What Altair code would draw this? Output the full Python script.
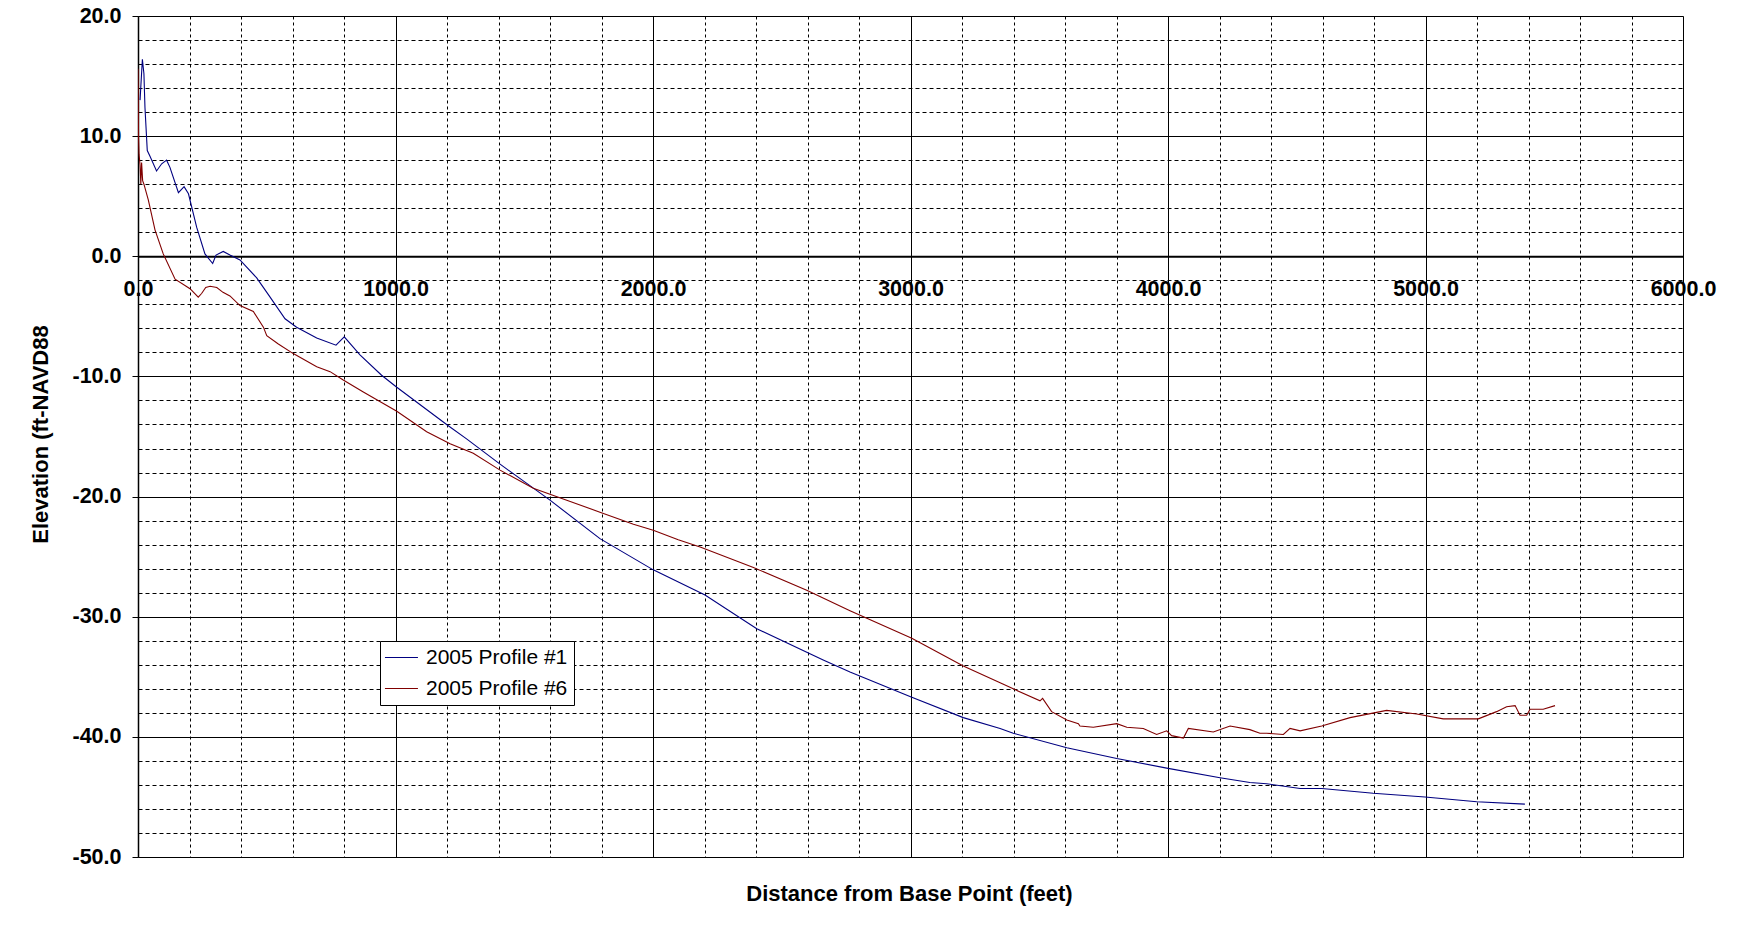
import altair as alt
import pandas as pd

# ---- data ----
series_names = ["2005 Profile #1", "2005 Profile #6"]
series_colors = ["#000080", "#800000"]

p1_dist = [8, 17, 23, 27, 36, 47, 72, 92, 111, 124, 157, 179, 196, 228, 260, 290, 303, 331, 357,
           396, 461, 513, 571, 616, 694, 769, 801, 862, 946, 1005, 1205, 1276, 1406, 1600, 1794,
           2001, 2202, 2403, 2661, 2765, 3005, 3205, 3348, 3399, 3607, 3801, 3995, 4202, 4318,
           4383, 4513, 4597, 4797, 4998, 5199, 5386]
p1_elev = [13.0, 16.4, 15.2, 12.4, 8.8, 8.3, 7.1, 7.7, 8.0, 7.4, 5.3, 5.8, 5.2, 2.4, 0.2, -0.6, 0.1,
           0.4, 0.1, -0.3, -1.8, -3.4, -5.2, -5.9, -6.8, -7.4, -6.7, -8.2, -9.9, -10.9, -14.1, -15.2,
           -17.3, -20.3, -23.5, -26.1, -28.2, -31.0, -33.6, -34.6, -36.7, -38.4, -39.3, -39.7, -40.9,
           -41.8, -42.6, -43.4, -43.8, -43.9, -44.3, -44.3, -44.7, -45.0, -45.4, -45.6]

p6_dist = [0, 2, 4, 8, 11, 14, 18, 23, 40, 66, 98, 144, 202, 234, 247, 263, 280, 306, 330, 357,
           396, 448, 487, 500, 545, 603, 694, 746, 797, 875, 1005, 1121, 1212, 1302, 1406, 1535,
           1665, 1794, 1924, 2001, 2098, 2183, 2390, 2597, 2765, 3005, 3205, 3348, 3399, 3503, 3513,
           3548, 3607, 3652, 3658, 3710, 3801, 3840, 3904, 3956, 3995, 4014, 4060, 4079, 4176,
           4241, 4318, 4357, 4383, 4448, 4474, 4513, 4597, 4707, 4849, 4966, 5069, 5205, 5276,
           5315, 5348, 5367, 5393, 5406, 5457, 5503]
p6_elev = [15.6, 10.0, 8.5, 7.6, 6.0, 7.8, 6.3, 6.0, 4.7, 2.2, 0.2, -1.9, -2.7, -3.4, -3.1, -2.6,
           -2.5, -2.6, -3.0, -3.3, -4.1, -4.6, -5.9, -6.6, -7.3, -8.1, -9.2, -9.6, -10.3, -11.3,
           -12.9, -14.6, -15.6, -16.4, -17.8, -19.3, -20.3, -21.3, -22.3, -22.8, -23.6, -24.2, -25.9,
           -27.8, -29.5, -31.8, -34.1, -35.5, -36.0, -37.0, -36.8, -37.9, -38.6, -38.9, -39.1,
           -39.2, -38.9, -39.2, -39.3, -39.8, -39.5, -39.9, -40.1, -39.3, -39.6, -39.1, -39.4,
           -39.7, -39.7, -39.8, -39.3, -39.5, -39.1, -38.4, -37.8, -38.1, -38.5, -38.5, -37.9,
           -37.5, -37.4, -38.2, -38.2, -37.7, -37.7, -37.4]

x_ticks = list(range(0, 6001, 200))
y_ticks = list(range(-50, 21, 2))

df = pd.concat([
    pd.DataFrame({"dist": p1_dist, "elev": p1_elev, "series": series_names[0]}),
    pd.DataFrame({"dist": p6_dist, "elev": p6_elev, "series": series_names[1]}),
])

FONT = "Liberation Sans"
W, H = 1545, 841
zero_from_bottom = H * 50 / 70.0

major_x = "datum.value % 1000 === 0"
major_y = "datum.value % 10 === 0"

x_axis = alt.Axis(
    values=x_ticks,
    labelExpr=f"{major_x} ? format(datum.value, '.1f') : ''",
    grid=True, gridColor="#000000", gridWidth=1,
    gridDash={"condition": {"test": major_x, "value": []}, "value": [3, 3]},
    tickOpacity={"condition": {"test": major_x, "value": 1}, "value": 0},
    tickSize=7, tickColor="#000000", tickWidth=1,
    domainColor="#000000", domainWidth=2,
    labelFont=FONT, labelFontWeight="bold", labelFontSize=21.5, labelColor="#000000",
    labelPadding=15, labelFlush=False, labelOverlap=False,
    offset=-zero_from_bottom,
    title="Distance from Base Point (feet)",
    titleFont=FONT, titleFontWeight="bold", titleFontSize=22, titleColor="#000000",
    titleX=771, titleY=637, titleAlign="center", titleBaseline="middle", titleAnchor="middle",
)

y_axis = alt.Axis(
    values=y_ticks,
    labelExpr=(f"{major_y} ? (datum.value < 0 ? '-' + format(-datum.value, '.1f') "
               ": format(datum.value, '.1f')) : ''"),
    grid=True, gridColor="#000000", gridWidth=1,
    gridDash={"condition": {"test": major_y, "value": []}, "value": [4, 3]},
    tickOpacity={"condition": {"test": major_y, "value": 1}, "value": 0},
    tickSize=6, tickColor="#000000",
    domainColor="#000000", domainWidth=1.5,
    labelFont=FONT, labelFontWeight="bold", labelFontSize=21.5, labelColor="#000000",
    labelPadding=11, labelOverlap=False, labelFlush=False,
    title="Elevation (ft-NAVD88",
    titleFont=FONT, titleFontWeight="bold", titleFontSize=22, titleColor="#000000",
    titleX=-97.5, titleY=418, titleAlign="center", titleBaseline="middle", titleAngle=270,
)

legend = alt.Legend(
    title=None, orient="none", legendX=242, legendY=625,
    fillColor="#FFFFFF", strokeColor="#000000", padding=6,
    symbolType="M-1.4,0H2.6", symbolSize=272, symbolStrokeWidth=1,
    labelFont=FONT, labelFontSize=21, labelColor="#000000", labelLimit=400,
    labelOffset=19, rowPadding=9,
)

chart = alt.Chart(df).mark_line(strokeWidth=1.1, clip=True).encode(
    x=alt.X("dist:Q", scale=alt.Scale(domain=[0, 6000], nice=False, zero=False), axis=x_axis),
    y=alt.Y("elev:Q", scale=alt.Scale(domain=[-50, 20], nice=False, zero=False), axis=y_axis),
    color=alt.Color("series:N", scale=alt.Scale(domain=series_names, range=series_colors),
                    legend=legend),
).properties(
    width=W, height=H,
    autosize=alt.AutoSizeParams(type="none"),
    padding={"left": 130, "top": 8, "right": 45, "bottom": 60},
).configure_view(
    fill="#C0C0C0", stroke="#808080", strokeWidth=1,
).configure(background="#FFFFFF")

chart.save("out.html", embed_options={"renderer": "svg", "actions": False})
